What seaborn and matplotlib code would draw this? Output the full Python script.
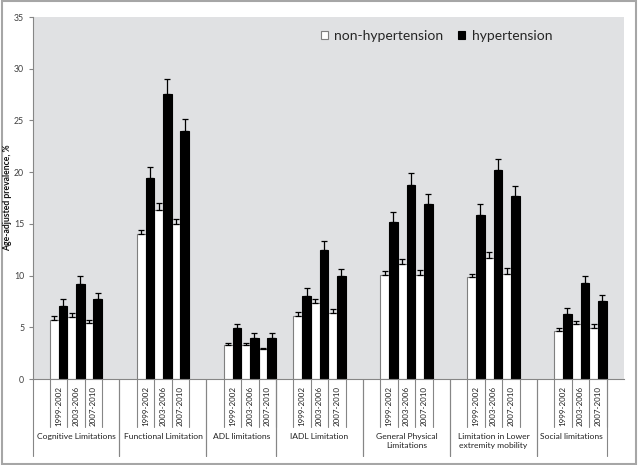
import numpy as np
import pandas as pd
import seaborn as sns
import matplotlib.pyplot as plt
from matplotlib.patches import Rectangle

# Data
groups = ["Cognitive Limitations", "Functional Limitation", "ADL limitations",
          "IADL Limitation", "General Physical\nLimitations",
          "Limitation in Lower\nextremity mobility", "Social limitations"]
periods = ["1999-2002", "2003-2006", "2007-2010"]
statuses = ["non-hypertension", "hypertension"]

non_htn = [5.7, 6.0, 5.4, 14.0, 16.3, 15.0, 3.3, 3.3, 2.9, 6.1, 7.3, 6.4,
           10.1, 11.1, 10.1, 9.9, 11.7, 10.2, 4.6, 5.3, 4.9]
non_htn_err = [0.4, 0.4, 0.3, 0.4, 0.7, 0.5, 0.2, 0.2, 0.1, 0.4, 0.4, 0.4,
               0.35, 0.5, 0.4, 0.3, 0.6, 0.5, 0.3, 0.3, 0.4]
htn = [7.1, 9.2, 7.7, 19.4, 27.6, 24.0, 4.9, 4.0, 4.0, 8.0, 12.5, 10.0,
       15.2, 18.8, 16.9, 15.9, 20.2, 17.7, 6.3, 9.3, 7.5]
htn_err = [0.6, 0.8, 0.6, 1.1, 1.4, 1.1, 0.4, 0.4, 0.4, 0.8, 0.8, 0.6,
           0.9, 1.1, 1.0, 1.0, 1.1, 1.0, 0.6, 0.7, 0.6]

# empty category slots before / after each group (Excel style spacing)
pad = [(1, 1), (1, 1), (1, 0), (1, 1), (1, 1), (1, 1), (1, 0)]

slot_order = []
group_span = []
nb = 0
for g, (before, after) in zip(groups, pad):
    start = len(slot_order)
    for _ in range(before):
        slot_order.append("blank%d" % nb)
        nb += 1
    for p in periods:
        slot_order.append(g + "|" + p)
    for _ in range(after):
        slot_order.append("blank%d" % nb)
        nb += 1
    group_span.append((start, len(slot_order) - 1))
slot_order.append("blank%d" % nb)

rows = []
i = 0
for g in groups:
    for p in periods:
        rows.append({"slot": g + "|" + p, "status": statuses[0], "value": non_htn[i], "err": non_htn_err[i]})
        rows.append({"slot": g + "|" + p, "status": statuses[1], "value": htn[i], "err": htn_err[i]})
        i += 1
df = pd.DataFrame(rows)

sns.set_theme(style="white")
plt.rcParams['font.family'] = ['Lato', 'DejaVu Sans']

fig = plt.figure(figsize=(6.4, 4.65), dpi=100)
ax = fig.add_axes([32.5 / 640, 1 - 379 / 465, (624 - 32.5) / 640, (379 - 17) / 465])
ax.set_facecolor("#e0e1e3")

sns.barplot(data=df, x="slot", y="value", hue="status", order=slot_order,
            hue_order=statuses, palette={statuses[0]: "white", statuses[1]: "black"},
            width=1.0, gap=0, errorbar=None, saturation=1, linewidth=0.8, ax=ax)

for bar in ax.patches:
    fc = bar.get_facecolor()
    bar.set_edgecolor("#7f7f7f" if fc[0] > 0.5 else "black")

# upward-only error bars
for status, off in zip(statuses, [-0.25, 0.25]):
    sub = df[df["status"] == status]
    xs = [slot_order.index(s) + off for s in sub["slot"]]
    ax.errorbar(xs, sub["value"], yerr=[np.zeros(len(sub)), sub["err"]],
                fmt="none", ecolor="black", elinewidth=0.9, capsize=2.5, capthick=0.9)

ax.set_ylim(0, 35)
ax.set_xlim(-0.5, len(slot_order) - 0.5)
ax.set_yticks(range(0, 36, 5))
ax.tick_params(axis="y", left=True, length=3, width=0.8, color="#868686",
               labelsize=6.3, labelcolor="#404040", pad=3)
ax.set_xlabel("")
ax.set_ylabel("")
fig.text(8 / 640, 1 - 198 / 465, "Age-adjusted prevalence, %", rotation=90,
         ha="center", va="center", fontsize=6.2, fontweight="bold", color="#111111")

period_pos = [j for j, s in enumerate(slot_order) if not s.startswith("blank")]
ax.set_xticks(period_pos)
ax.set_xticklabels([slot_order[j].split("|")[1] for j in period_pos], rotation=90,
                   fontsize=5.8, color="#222222")
ax.tick_params(axis="x", length=0, pad=5)

for side in ["top", "right"]:
    ax.spines[side].set_visible(False)
for side in ["left", "bottom"]:
    ax.spines[side].set_color("#868686")
    ax.spines[side].set_linewidth(0.8)

# category axis separators and group labels
tr = ax.get_xaxis_transform()
y_per = -(427 - 379) / 362
y_grp = -(456 - 379) / 362
for g, (start, end) in zip(groups, group_span):
    first = [j for j in range(start, end + 1) if not slot_order[j].startswith("blank")]
    for b in np.arange(first[0] - 0.5, first[-1] + 1.0, 1.0):
        ax.plot([b, b], [0, y_per], transform=tr, clip_on=False, color="#868686", lw=0.8)
    for b in [start - 0.5, end + 0.5]:
        ax.plot([b, b], [0, y_grp], transform=tr, clip_on=False, color="#868686", lw=0.8)
    ax.text((start + end) / 2, -(433 - 379) / 362, g, transform=tr, ha="center", va="top",
            fontsize=6.1, linespacing=1.35, color="#222222")

handles, labels = ax.get_legend_handles_labels()
if ax.get_legend() is not None:
    ax.get_legend().remove()
for h, c in zip(handles, ["#7f7f7f", "black"]):
    h.set_edgecolor(c)
    h.set_linewidth(0.8)
ax.legend(handles, labels, ncol=2, frameon=False, fontsize=10, loc="center",
          bbox_to_anchor=(0.683, 0.948), handlelength=0.5, handleheight=0.6,
          handletextpad=0.45, columnspacing=1.1)

fig.patches.append(Rectangle((1.5 / 640, 1.5 / 465), 634.5 / 640, 462 / 465,
                             transform=fig.transFigure, fill=False,
                             edgecolor="#a6a6a6", lw=1.5))

fig.savefig("out.png", dpi=100)
